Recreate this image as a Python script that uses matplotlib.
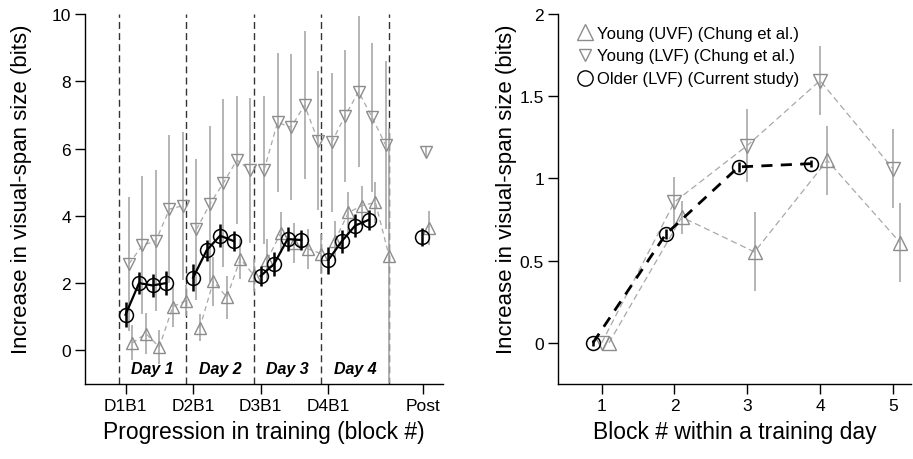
import matplotlib
matplotlib.use("Agg")
import matplotlib.pyplot as plt
import numpy as np

plt.rcParams['font.family'] = ['Liberation Sans', 'DejaVu Sans']

# ---------------- Left panel data ----------------
day_ticks = ['D1B1', 'D2B1', 'D3B1', 'D4B1', 'Post']
day_labels = ['Day 1', 'Day 2', 'Day 3', 'Day 4']

older_mean = [[1.06, 2.00, 1.93, 2.00],
              [2.16, 2.97, 3.41, 3.25],
              [2.21, 2.57, 3.31, 3.28],
              [2.68, 3.24, 3.71, 3.88]]
older_err = [[0.37, 0.33, 0.33, 0.35],
             [0.40, 0.30, 0.35, 0.30],
             [0.30, 0.35, 0.35, 0.30],
             [0.40, 0.35, 0.35, 0.30]]

lvf_mean = [[2.57, 3.12, 3.26, 4.20, 4.30],
            [3.60, 4.35, 4.98, 5.66, 5.35],
            [5.35, 6.78, 6.63, 7.29, 6.23],
            [6.18, 6.97, 7.69, 6.93, 6.11]]
lvf_err = [[2.00, 2.05, 2.10, 2.20, 2.20],
           [2.10, 2.33, 2.50, 1.90, 2.15],
           [2.20, 2.07, 2.17, 2.20, 2.07],
           [2.08, 1.95, 2.25, 2.22, 2.50]]

uvf_mean = [[0.22, 0.50, 0.10, 1.30, 1.48],
            [0.67, 2.05, 1.58, 2.72, 2.23],
            [2.70, 3.50, 3.20, 3.02, 2.87],
            [3.26, 4.10, 4.30, 4.40, 2.82]]
uvf_err = [[0.52, 0.60, 0.50, 0.60, 0.45],
           [0.40, 0.73, 0.64, 0.60, 0.50],
           [0.60, 0.60, 0.60, 0.60, 0.60],
           [0.60, 0.60, 0.60, 0.60, 3.80]]

post_older, post_older_err = 3.36, 0.27
post_lvf, post_lvf_err = 5.89, 0.15
post_uvf, post_uvf_err = 3.63, 0.50

# ---------------- Right panel data ----------------
blocks = [1, 2, 3, 4, 5]
r_uvf = [0.0, 0.765, 0.553, 1.11, 0.61]
r_uvf_err = [0.0, 0.10, 0.24, 0.21, 0.24]
r_lvf = [0.0, 0.857, 1.20, 1.595, 1.06]
r_lvf_err = [0.0, 0.15, 0.22, 0.21, 0.24]
r_older = [0.0, 0.66, 1.07, 1.09]
r_older_err = [0.02, 0.03, 0.03, 0.02]

legend_labels = ['Young (UVF) (Chung et al.)',
                 'Young (LVF) (Chung et al.)',
                 'Older (LVF) (Current study)']

GREY = '#8c8c8c'
GREYL = '#a8a8a8'

fig = plt.figure(figsize=(9.13, 4.6), dpi=100)

# ================= LEFT =================
ax = fig.add_axes([85 / 913, 1 - 385 / 460, (443 - 85) / 913, 370 / 460])
ax.set_xlim(0.4, 5.7)
ax.set_ylim(-1, 10)

step = 0.2
for d in range(4):
    day = d + 1
    # young LVF
    xs = [day + 0.05 + step * b for b in range(5)]
    ax.errorbar(xs, lvf_mean[d], yerr=lvf_err[d], fmt='none', ecolor=GREYL, elinewidth=1.2, capsize=0, zorder=1)
    ax.plot(xs, lvf_mean[d], ls=(0, (4, 3)), color=GREYL, lw=0.9, zorder=2)
    ax.plot(xs, lvf_mean[d], ls='none', marker='v', ms=9, mfc='none', mec=GREY, mew=1.0, zorder=3)
    # young UVF
    xs = [day + 0.10 + step * b for b in range(5)]
    ax.errorbar(xs, uvf_mean[d], yerr=uvf_err[d], fmt='none', ecolor=GREYL, elinewidth=1.2, capsize=0, zorder=1)
    ax.plot(xs, uvf_mean[d], ls=(0, (4, 3)), color=GREYL, lw=0.9, zorder=2)
    ax.plot(xs, uvf_mean[d], ls='none', marker='^', ms=9, mfc='none', mec=GREY, mew=1.0, zorder=3)
    # older
    xs = [day + step * b for b in range(4)]
    ax.errorbar(xs, older_mean[d], yerr=older_err[d], fmt='none', ecolor='black', elinewidth=1.8, capsize=0, zorder=4)
    ax.plot(xs, older_mean[d], ls='-', color='black', lw=1.6, zorder=4)
    ax.plot(xs, older_mean[d], ls='none', marker='o', ms=10, mfc='none', mec='black', mew=1.1, zorder=5)
    ax.text(day + 0.4, -0.55, day_labels[d], ha='center', va='center', fontsize=11.5,
            fontweight='bold', fontstyle='italic')

for d in range(5):
    ax.axvline(d + 1 - 0.1, ymin=0, ymax=1, color='#333333', ls=(0, (5, 3)), lw=1.0, zorder=0)

# post
ax.errorbar([5.385], [post_older], yerr=[post_older_err], fmt='none', ecolor='black', elinewidth=1.8, zorder=4)
ax.plot([5.385], [post_older], marker='o', ms=10, mfc='none', mec='black', mew=1.1, zorder=5)
ax.errorbar([5.45], [post_lvf], yerr=[post_lvf_err], fmt='none', ecolor=GREYL, elinewidth=1.2, zorder=1)
ax.plot([5.45], [post_lvf], marker='v', ms=9, mfc='none', mec=GREY, mew=1.0, zorder=3)
ax.errorbar([5.5], [post_uvf], yerr=[post_uvf_err], fmt='none', ecolor=GREYL, elinewidth=1.2, zorder=1)
ax.plot([5.5], [post_uvf], marker='^', ms=9, mfc='none', mec=GREY, mew=1.0, zorder=3)

ax.set_xticks([1, 2, 3, 4, 5.4])
ax.set_xticklabels(day_ticks)
ax.set_yticks([0, 2, 4, 6, 8, 10])
ax.set_xlabel('Progression in training (block #)', fontsize=16.5, labelpad=5)
ax.set_ylabel('Increase in visual-span size (bits)', fontsize=16)
ax.yaxis.set_label_coords((32 - 85) / 358, 0.53)

# ================= RIGHT =================
ax2 = fig.add_axes([558 / 913, 1 - 385 / 460, (911 - 558) / 913, 370 / 460])
ax2.set_xlim(0.4, 5.25)
ax2.set_ylim(-0.25, 2.0)

xs_u = [b + 0.1 for b in blocks]
xs_l = [b + 0.0 for b in blocks]
xs_o = [b - 0.12 for b in blocks[:4]]

ax2.errorbar(xs_u[1:], r_uvf[1:], yerr=r_uvf_err[1:], fmt='none', ecolor=GREYL, elinewidth=1.2, zorder=1)
ax2.plot(xs_u, r_uvf, ls=(0, (5, 3)), color=GREYL, lw=0.9, zorder=2)
ax2.plot(xs_u, r_uvf, ls='none', marker='^', ms=10, mfc='none', mec=GREY, mew=1.0, zorder=3)

ax2.errorbar(xs_l[1:], r_lvf[1:], yerr=r_lvf_err[1:], fmt='none', ecolor=GREYL, elinewidth=1.2, zorder=1)
ax2.plot(xs_l, r_lvf, ls=(0, (5, 3)), color=GREYL, lw=0.9, zorder=2)
ax2.plot(xs_l, r_lvf, ls='none', marker='v', ms=10, mfc='none', mec=GREY, mew=1.0, zorder=3)

ax2.errorbar(xs_o, r_older, yerr=r_older_err, fmt='none', ecolor='black', elinewidth=1.8, zorder=4)
ax2.plot(xs_o, r_older, ls=(0, (4, 3)), color='black', lw=2.0, zorder=4)
ax2.plot(xs_o, r_older, ls='none', marker='o', ms=10, mfc='none', mec='black', mew=1.1, zorder=5)

ax2.set_xticks(blocks)
ax2.set_yticks([0, 0.5, 1, 1.5, 2])
ax2.set_yticklabels(['0', '0.5', '1', '1.5', '2'])
ax2.set_xlabel('Block # within a training day', fontsize=16.5, labelpad=5)
ax2.set_ylabel('Increase in visual-span size (bits)', fontsize=16)
ax2.yaxis.set_label_coords((517 - 558) / 353, 0.53)

lh1, = ax2.plot([], [], ls='none', marker='^', ms=11, mfc='none', mec=GREY, mew=1.0)
lh2, = ax2.plot([], [], ls='none', marker='v', ms=9, mfc='none', mec=GREY, mew=1.0)
lh3, = ax2.plot([], [], ls='none', marker='o', ms=11, mfc='none', mec='black', mew=1.0)
ax2.legend([lh1, lh2, lh3], legend_labels, loc='upper left', bbox_to_anchor=(0.02, 1.0),
           frameon=False, fontsize=12, handletextpad=0.15, labelspacing=0.47, borderaxespad=0.3,
           handlelength=1.05)

for a in (ax, ax2):
    a.spines['top'].set_visible(False)
    a.spines['right'].set_visible(False)
    a.spines['left'].set_linewidth(1.0)
    a.spines['bottom'].set_linewidth(1.0)
    a.tick_params(axis='both', direction='out', length=7, width=1.0, labelsize=12.5, pad=3)

fig.savefig('out.png', dpi=100)
